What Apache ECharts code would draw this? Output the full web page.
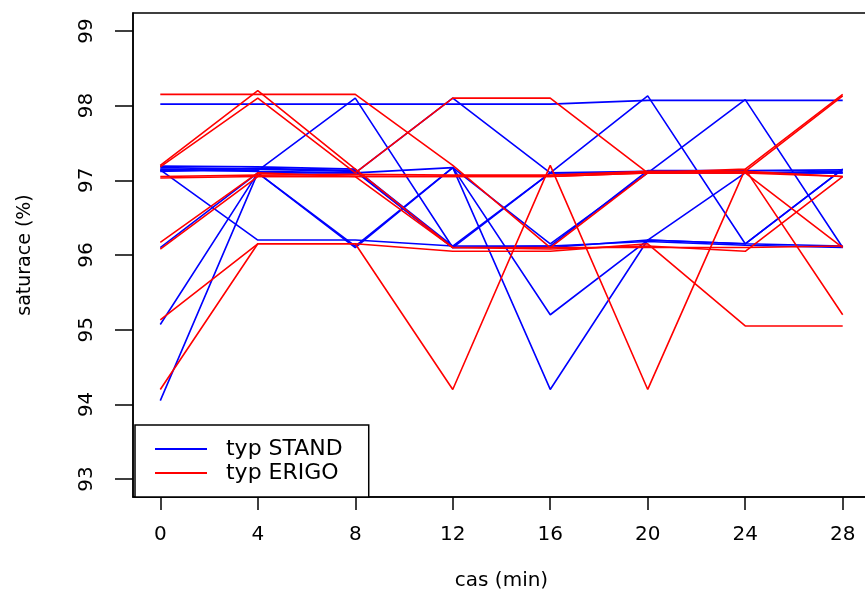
<!DOCTYPE html>
<html>
<head>
<meta charset="utf-8">
<script src="https://cdn.jsdelivr.net/npm/echarts@6/dist/echarts.min.js"></script>
<style>
html,body{margin:0;padding:0;background:#fff;}
#chart{width:865px;height:590px;}
</style>
</head>
<body>
<div id="chart"></div>
<script>
// time points (min)
var times = [0, 4, 8, 12, 16, 20, 24, 28];
var xTicks = [0, 4, 8, 12, 16, 20, 24, 28];
var yTicks = [93, 94, 95, 96, 97, 98, 99];

// typ STAND subjects (blue)
var stand1 = [98.02, 98.02, 98.02, 98.02, 98.02, 98.07, 98.07, 98.07];
var stand2 = [97.13, 97.13, 98.10, 96.10, 96.10, 96.20, 96.15, 97.15];
var stand3 = [97.15, 97.12, 97.10, 98.10, 97.10, 98.13, 96.15, 96.12];
var stand4 = [97.17, 97.15, 97.12, 96.10, 96.12, 96.18, 96.13, 96.10];
var stand5 = [97.14, 96.20, 96.20, 96.12, 97.10, 97.10, 98.08, 96.10];
var stand6 = [96.10, 97.10, 96.10, 97.17, 94.20, 96.20, 96.15, 97.15];
var stand7 = [95.07, 97.10, 96.12, 97.17, 95.20, 96.20, 97.10, 97.10];
var stand8 = [94.05, 97.10, 97.10, 97.17, 96.15, 97.10, 97.10, 97.12];
var stand9 = [97.12, 97.16, 97.13, 96.10, 97.10, 97.12, 97.10, 97.10];
var stand10 = [97.19, 97.18, 97.15, 96.12, 96.12, 97.13, 97.13, 97.14];

// typ ERIGO subjects (red)
var erigo1 = [98.15, 98.15, 98.15, 97.20, 96.10, 96.10, 96.10, 96.12];
var erigo2 = [97.20, 98.20, 97.15, 96.10, 96.08, 96.12, 96.05, 97.05];
var erigo3 = [97.18, 98.10, 97.10, 98.10, 98.10, 97.10, 97.10, 96.10];
var erigo4 = [97.03, 97.05, 97.05, 97.05, 97.05, 97.10, 97.15, 98.15];
var erigo5 = [96.17, 97.10, 97.05, 97.05, 97.05, 97.10, 97.12, 98.13];
var erigo6 = [96.08, 97.05, 97.05, 96.10, 96.10, 97.10, 97.10, 97.05];
var erigo7 = [95.13, 96.15, 96.15, 94.20, 97.20, 94.20, 97.15, 95.20];
var erigo8 = [94.20, 96.15, 96.15, 96.05, 96.05, 96.15, 95.05, 95.05];
var erigo9 = [97.05, 97.07, 97.08, 97.07, 97.07, 97.12, 97.12, 97.05];

var standGroups = [stand1, stand2, stand3, stand4, stand5, stand6, stand7, stand8, stand9, stand10];
var erigoGroups = [erigo1, erigo2, erigo3, erigo4, erigo5, erigo6, erigo7, erigo8, erigo9];

var BLUE = '#0000ff', RED = '#ff0000';
var FONT = 'DejaVu Sans';

function mk(vals, name, color) {
  return {
    type: 'line', name: name, symbol: 'none', silent: true,
    lineStyle: {color: color, width: 1.6},
    itemStyle: {color: color},
    data: times.map(function (t, i) { return [t, vals[i]]; })
  };
}
var series = [];
standGroups.forEach(function (v) { series.push(mk(v, 'typ STAND', BLUE)); });
erigoGroups.forEach(function (v) { series.push(mk(v, 'typ ERIGO', RED)); });

var chart = echarts.init(document.getElementById('chart'), null, {renderer: 'canvas'});
chart.setOption({
  animation: false,
  backgroundColor: '#fff',
  grid: {left: 133, top: 13, width: 737, height: 484, show: true,
         outerBoundsMode: 'none', containLabel: false,
         borderColor: '#000', borderWidth: 1.5, backgroundColor: 'transparent'},
  legend: {
    data: ['typ STAND', 'typ ERIGO'], orient: 'vertical', left: 135, top: 425,
    backgroundColor: '#fff', borderColor: '#000', borderWidth: 1.5,
    padding: [13, 26, 13, 20], itemGap: 2, itemWidth: 52, itemHeight: 2,
    icon: 'rect',
    formatter: '  {name}',
    textStyle: {fontFamily: FONT, fontSize: 22, lineHeight: 22, color: '#000'},
    selectedMode: false
  },
  xAxis: {
    type: 'value', min: -1.12, max: 29.12,
    name: 'cas (min)', nameLocation: 'middle', nameGap: 74,
    nameTextStyle: {fontFamily: FONT, fontSize: 20, color: '#000'},
    axisLine: {show: true, onZero: false, lineStyle: {color: '#000', width: 1.5}},
    axisTick: {show: true, customValues: xTicks, length: 13, lineStyle: {color: '#000', width: 1.5}},
    axisLabel: {customValues: xTicks, fontFamily: FONT, fontSize: 20, color: '#000', margin: 28},
    splitLine: {show: false}
  },
  yAxis: {
    type: 'value', min: 92.76, max: 99.24,
    name: 'saturace (%)', nameLocation: 'middle', nameGap: 98,
    nameTextStyle: {fontFamily: FONT, fontSize: 19, color: '#000'},
    axisLine: {show: true, onZero: false, lineStyle: {color: '#000', width: 1.5}},
    axisTick: {show: true, customValues: yTicks, length: 18, lineStyle: {color: '#000', width: 1.5}},
    axisLabel: {customValues: yTicks, rotate: 90, fontFamily: FONT, fontSize: 20, color: '#000', margin: 36},
    splitLine: {show: false}
  },
  series: series
});
</script>
</body>
</html>
